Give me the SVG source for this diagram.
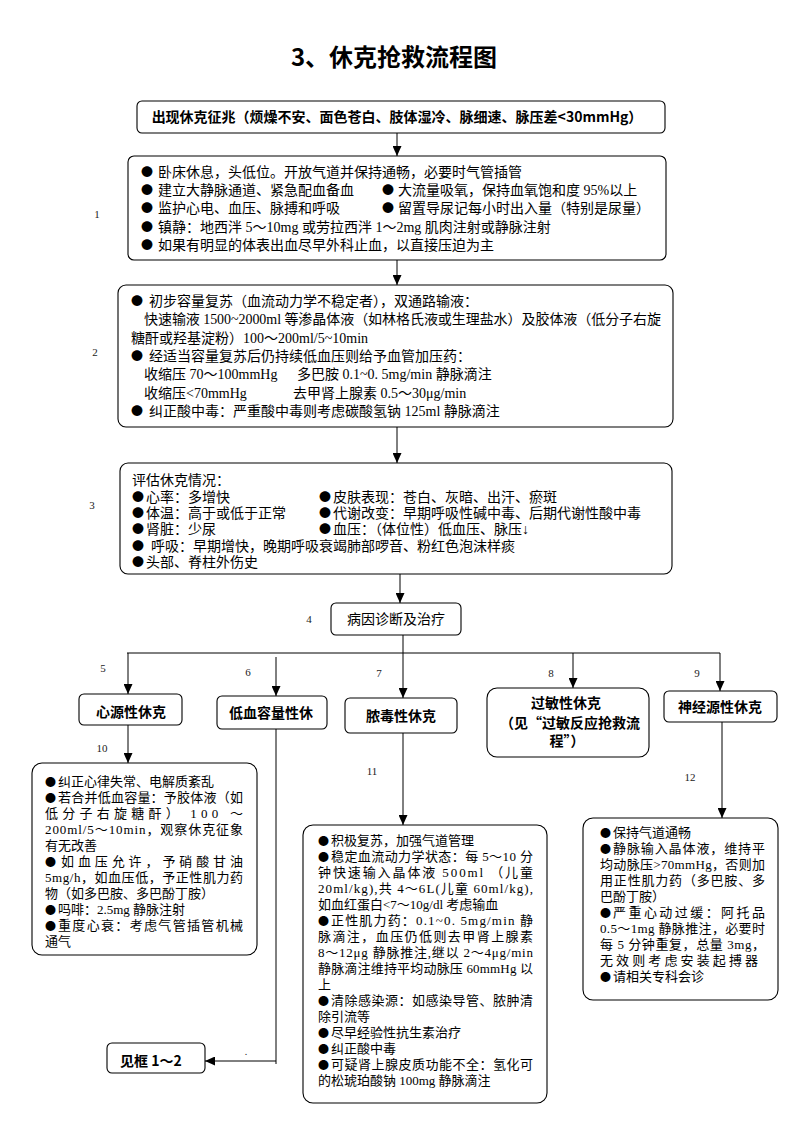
<svg xmlns="http://www.w3.org/2000/svg" width="793" height="1122" viewBox="0 0 793 1122">
<defs>
<marker id="arr" markerUnits="userSpaceOnUse" markerWidth="10" markerHeight="9" refX="10" refY="4.5" orient="auto">
<path d="M0,0 L10,4.5 L0,9 z" fill="#000"/>
</marker>
<style>
.box{fill:#fff;stroke:#000;stroke-width:1.1}
.t{font-family:"Liberation Serif","Noto Sans CJK SC",serif;font-size:14px;fill:#000}
.s{font-family:"Liberation Serif","Noto Sans CJK SC",serif;font-size:13px;fill:#000}
.bl{font-family:"Noto Sans CJK SC",sans-serif;font-size:12px}
.bs{font-family:"Noto Sans CJK SC",sans-serif;font-size:11px}
.b{font-family:"Noto Sans CJK SC","Liberation Sans",sans-serif;font-weight:bold;font-size:14px;fill:#000}
.c{text-anchor:middle}
.lbl{font-family:"Liberation Serif",serif;font-size:11px;fill:#222;text-anchor:middle}
.ln{fill:none;stroke:#000;stroke-width:1}
</style>
</defs>
<rect width="793" height="1122" fill="#fff"/>
<text x="394" y="66" class="b c" style="font-size:24px">3、休克抢救流程图</text>

<g id="connectors">
<path class="ln" d="M397,133 V156" marker-end="url(#arr)"/>
<path class="ln" d="M397,260 V285" marker-end="url(#arr)"/>
<path class="ln" d="M397,427 V463" marker-end="url(#arr)"/>
<path class="ln" d="M400,574 V603" marker-end="url(#arr)"/>
<path class="ln" d="M403,635 V698" marker-end="url(#arr)"/>
<path class="ln" d="M127,653 H720"/>
<path class="ln" d="M128,653 V694" marker-end="url(#arr)"/>
<path class="ln" d="M276,657 V696" marker-end="url(#arr)"/>
<path class="ln" d="M573,653 V688" marker-end="url(#arr)"/>
<path class="ln" d="M720,653 V691" marker-end="url(#arr)"/>
<path class="ln" d="M128,725 V763" marker-end="url(#arr)"/>
<path class="ln" d="M403,733 V825" marker-end="url(#arr)"/>
<path class="ln" d="M722,722 V818" marker-end="url(#arr)"/>
<path class="ln" d="M276,729 V1064"/>
<path class="ln" d="M276,1061 H205" marker-end="url(#arr)"/>
</g>

<g id="labels">
<text x="97" y="218" class="lbl">1</text>
<text x="95" y="356" class="lbl">2</text>
<text x="92" y="509" class="lbl">3</text>
<text x="309" y="623" class="lbl">4</text>
<text x="103" y="672" class="lbl">5</text>
<text x="248" y="676" class="lbl">6</text>
<text x="379" y="677" class="lbl">7</text>
<text x="551" y="677" class="lbl">8</text>
<text x="697" y="677" class="lbl">9</text>
<text x="102" y="752" class="lbl">10</text>
<text x="372" y="775" class="lbl">11</text>
<text x="690" y="781" class="lbl">12</text>
<text x="246" y="1055" class="lbl" style="font-size:10px">.</text>
</g>

<g id="nodeA">
<rect class="box" x="137" y="101" width="528" height="32" rx="5"/>
<text x="397" y="122" class="b c">出现休克征兆（烦燥不安、面色苍白、肢体湿冷、脉细速、脉压差&lt;30mmHg）</text>
</g>

<g id="node1">
<rect class="box" x="128" y="156" width="538" height="104" rx="6"/>
<text class="t"><tspan class="bl" x="141" y="177">●</tspan><tspan x="158" y="177">卧床休息，头低位。开放气道并保持通畅，必要时气管插管</tspan></text>
<text class="t"><tspan class="bl" x="141" y="195">●</tspan><tspan x="158" y="195">建立大静脉通道、紧急配血备血</tspan><tspan class="bl" x="382" y="195">●</tspan><tspan x="398" y="195">大流量吸氧，保持血氧饱和度 95%以上</tspan></text>
<text class="t"><tspan class="bl" x="141" y="213">●</tspan><tspan x="158" y="213">监护心电、血压、脉搏和呼吸</tspan><tspan class="bl" x="382" y="213">●</tspan><tspan x="398" y="213">留置导尿记每小时出入量（特别是尿量）</tspan></text>
<text class="t"><tspan class="bl" x="141" y="232">●</tspan><tspan x="158" y="232">镇静：地西泮 5～10mg 或劳拉西泮 1～2mg 肌肉注射或静脉注射</tspan></text>
<text class="t"><tspan class="bl" x="141" y="250">●</tspan><tspan x="158" y="250">如果有明显的体表出血尽早外科止血，以直接压迫为主</tspan></text>
</g>

<g id="node2">
<rect class="box" x="118" y="285" width="555" height="142" rx="8"/>
<text class="t"><tspan class="bl" x="131" y="306">●</tspan><tspan x="149" y="306">初步容量复苏（血流动力学不稳定者），双通路输液：</tspan></text>
<text class="t" x="144" y="324" textLength="517" lengthAdjust="spacing">快速输液 1500~2000ml 等渗晶体液（如林格氏液或生理盐水）及胶体液（低分子右旋</text>
<text class="t" x="131" y="343">糖酐或羟基淀粉）100～200ml/5~10min</text>
<text class="t"><tspan class="bl" x="131" y="361">●</tspan><tspan x="149" y="361">经适当容量复苏后仍持续低血压则给予血管加压药：</tspan></text>
<text class="t"><tspan x="144" y="379">收缩压 70～100mmHg</tspan><tspan x="297" y="379">多巴胺 0.1~0. 5mg/min 静脉滴注</tspan></text>
<text class="t"><tspan x="144" y="398">收缩压&lt;70mmHg</tspan><tspan x="293" y="398">去甲肾上腺素 0.5～30μg/min</tspan></text>
<text class="t"><tspan class="bl" x="131" y="416">●</tspan><tspan x="149" y="416">纠正酸中毒：严重酸中毒则考虑碳酸氢钠 125ml 静脉滴注</tspan></text>
</g>

<g id="node3">
<rect class="box" x="120" y="463" width="552" height="111" rx="8"/>
<text class="t" x="132" y="485">评估休克情况：</text>
<text class="t"><tspan class="bl" x="132" y="502">●</tspan><tspan x="146" y="502">心率：多增快</tspan><tspan class="bl" x="319" y="502">●</tspan><tspan x="333" y="502">皮肤表现：苍白、灰暗、出汗、瘀斑</tspan></text>
<text class="t"><tspan class="bl" x="132" y="518">●</tspan><tspan x="146" y="518">体温：高于或低于正常</tspan><tspan class="bl" x="319" y="518">●</tspan><tspan x="333" y="518">代谢改变：早期呼吸性碱中毒、后期代谢性酸中毒</tspan></text>
<text class="t"><tspan class="bl" x="132" y="534">●</tspan><tspan x="146" y="534">肾脏：少尿</tspan><tspan class="bl" x="319" y="534">●</tspan><tspan x="333" y="534">血压：（体位性）低血压、脉压↓</tspan></text>
<text class="t"><tspan class="bl" x="132" y="551">●</tspan><tspan x="151" y="551">呼吸：早期增快，晚期呼吸衰竭肺部啰音、粉红色泡沫样痰</tspan></text>
<text class="t"><tspan class="bl" x="132" y="567">●</tspan><tspan x="146" y="567">头部、脊柱外伤史</tspan></text>
</g>

<g id="node4">
<rect class="box" x="331" y="603" width="130" height="32" rx="5"/>
<text x="396" y="624" class="t c">病因诊断及治疗</text>
</g>

<g id="node5">
<rect class="box" x="79" y="694" width="103" height="31" rx="5"/>
<text x="131" y="717" class="b c">心源性休克</text>
</g>

<g id="node6">
<rect class="box" x="217" y="696" width="110" height="33" rx="5"/>
<text x="271" y="718" class="b c">低血容量性休</text>
</g>

<g id="node7">
<rect class="box" x="345" y="698" width="112" height="35" rx="5"/>
<text x="401" y="721" class="b c">脓毒性休克</text>
</g>

<g id="node8">
<rect class="box" x="487" y="688" width="162" height="69" rx="10"/>
<text x="566" y="708" class="b c">过敏性休克</text>
<text x="570" y="728" class="b c">（见“过敏反应抢救流</text>
<text x="567" y="746" class="b c">程”）</text>
</g>

<g id="node9">
<rect class="box" x="664" y="691" width="113" height="31" rx="5"/>
<text x="720" y="712" class="b c">神经源性休克</text>
</g>

<g id="node10">
<rect class="box" x="32" y="763" width="225" height="192" rx="10"/>
<text class="s"><tspan class="bs" x="45" y="786">●</tspan><tspan x="58" y="786">纠正心律失常、电解质紊乱</tspan></text>
<text class="s"><tspan class="bs" x="45" y="802">●</tspan><tspan x="58" y="802" textLength="185" lengthAdjust="spacing">若合并低血容量：予胶体液（如</tspan></text>
<text class="s" x="45" y="818" textLength="198" lengthAdjust="spacing">低分子右旋糖酐） 100 ～</text>
<text class="s" x="45" y="834" textLength="198" lengthAdjust="spacing">200ml/5～10min，观察休克征象</text>
<text class="s" x="45" y="850">有无改善</text>
<text class="s"><tspan class="bs" x="45" y="866">●</tspan><tspan x="61" y="866" textLength="182" lengthAdjust="spacing">如血压允许，予硝酸甘油</tspan></text>
<text class="s" x="45" y="882" textLength="198" lengthAdjust="spacing">5mg/h，如血压低，予正性肌力药</text>
<text class="s" x="45" y="898">物（如多巴胺、多巴酚丁胺）</text>
<text class="s"><tspan class="bs" x="45" y="914">●</tspan><tspan x="58" y="914">吗啡：2.5mg 静脉注射</tspan></text>
<text class="s"><tspan class="bs" x="45" y="930">●</tspan><tspan x="58" y="930" textLength="185" lengthAdjust="spacing">重度心衰：考虑气管插管机械</tspan></text>
<text class="s" x="45" y="946">通气</text>
</g>

<g id="node11">
<rect class="box" x="303" y="825" width="244" height="278" rx="10"/>
<text class="s"><tspan class="bs" x="318" y="845">●</tspan><tspan x="331" y="845">积极复苏，加强气道管理</tspan></text>
<text class="s"><tspan class="bs" x="318" y="861">●</tspan><tspan x="331" y="861" textLength="202" lengthAdjust="spacing">稳定血流动力学状态：每 5～10 分</tspan></text>
<text class="s" x="318" y="877" textLength="215" lengthAdjust="spacing">钟快速输入晶体液 500ml （儿童</text>
<text class="s" x="318" y="893" textLength="215" lengthAdjust="spacing">20ml/kg),共 4～6L(儿童 60ml/kg),</text>
<text class="s" x="318" y="909">如血红蛋白&lt;7～10g/dl 考虑输血</text>
<text class="s"><tspan class="bs" x="318" y="925">●</tspan><tspan x="331" y="925" textLength="202" lengthAdjust="spacing">正性肌力药：0.1~0. 5mg/min 静</tspan></text>
<text class="s" x="318" y="941" textLength="215" lengthAdjust="spacing">脉滴注，血压仍低则去甲肾上腺素</text>
<text class="s" x="318" y="957" textLength="215" lengthAdjust="spacing">8～12μg 静脉推注,继以 2～4μg/min</text>
<text class="s" x="318" y="973" textLength="215" lengthAdjust="spacing">静脉滴注维持平均动脉压 60mmHg 以</text>
<text class="s" x="318" y="989">上</text>
<text class="s"><tspan class="bs" x="318" y="1005">●</tspan><tspan x="331" y="1005" textLength="202" lengthAdjust="spacing">清除感染源：如感染导管、脓肿清</tspan></text>
<text class="s" x="318" y="1021">除引流等</text>
<text class="s"><tspan class="bs" x="318" y="1037">●</tspan><tspan x="331" y="1037">尽早经验性抗生素治疗</tspan></text>
<text class="s"><tspan class="bs" x="318" y="1053">●</tspan><tspan x="331" y="1053">纠正酸中毒</tspan></text>
<text class="s"><tspan class="bs" x="318" y="1069">●</tspan><tspan x="331" y="1069" textLength="202" lengthAdjust="spacing">可疑肾上腺皮质功能不全：氢化可</tspan></text>
<text class="s" x="318" y="1085">的松琥珀酸钠 100mg 静脉滴注</text>
</g>

<g id="node12">
<rect class="box" x="583" y="818" width="195" height="182" rx="10"/>
<text class="s"><tspan class="bs" x="600" y="837">●</tspan><tspan x="613" y="837">保持气道通畅</tspan></text>
<text class="s"><tspan class="bs" x="600" y="853">●</tspan><tspan x="613" y="853" textLength="152" lengthAdjust="spacing">静脉输入晶体液，维持平</tspan></text>
<text class="s" x="600" y="869" textLength="165" lengthAdjust="spacing">均动脉压&gt;70mmHg，否则加</text>
<text class="s" x="600" y="885" textLength="165" lengthAdjust="spacing">用正性肌力药（多巴胺、多</text>
<text class="s" x="600" y="901">巴酚丁胺）</text>
<text class="s"><tspan class="bs" x="600" y="917">●</tspan><tspan x="613" y="917" textLength="152" lengthAdjust="spacing">严重心动过缓：阿托品</tspan></text>
<text class="s" x="600" y="933" textLength="165" lengthAdjust="spacing">0.5～1mg 静脉推注，必要时</text>
<text class="s" x="600" y="949" textLength="165" lengthAdjust="spacing">每 5 分钟重复，总量 3mg，</text>
<text class="s" x="600" y="965" textLength="158" lengthAdjust="spacing">无效则考虑安装起搏器</text>
<text class="s"><tspan class="bs" x="600" y="981">●</tspan><tspan x="613" y="981">请相关专科会诊</tspan></text>
</g>

<g id="node13">
<rect class="box" x="107" y="1043" width="98" height="30" rx="5"/>
<text x="120" y="1066" class="b">见框 1～2</text>
</g>
</svg>
